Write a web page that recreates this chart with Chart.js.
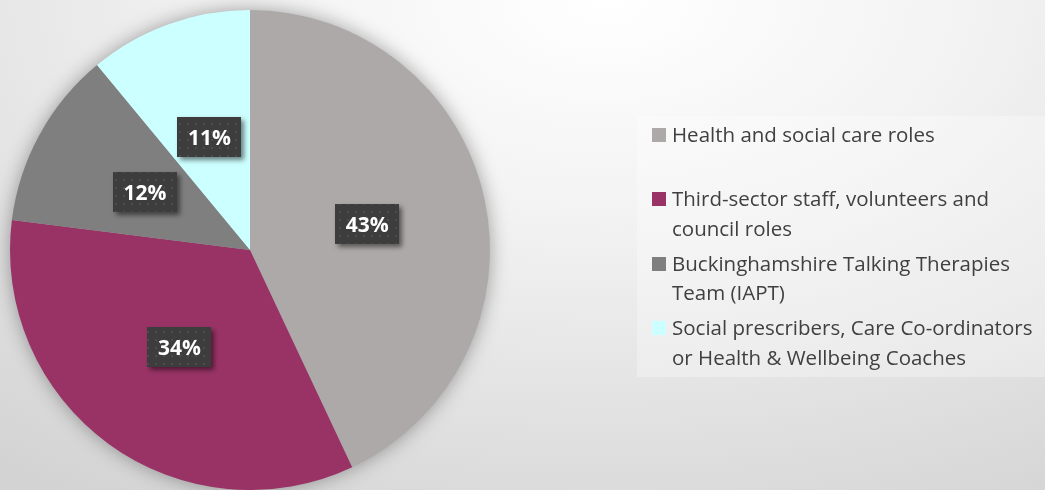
<!DOCTYPE html>
<html>
<head>
<meta charset="utf-8">
<title>Roles of respondents</title>
<script src="https://cdn.jsdelivr.net/npm/chart.js@4/dist/chart.umd.min.js"></script>
<style>
  html, body { margin: 0; padding: 0; }
  body {
    width: 1045px; height: 490px; overflow: hidden;
    background: radial-gradient(ellipse 95% 120% at 58% 0%, #ffffff 0%, #f2f2f2 38%, #d3d3d3 100%);
  }
  #wrap { position: relative; width: 1045px; height: 490px; }
</style>
</head>
<body>
<div id="wrap"><canvas id="c" width="1045" height="490"></canvas></div>
<script>
// Respondent roles and their share of responses (%)
const categories = [
  'Health and social care roles',
  'Third-sector staff, volunteers and council roles',
  'Buckinghamshire Talking Therapies Team (IAPT)',
  'Social prescribers, Care Co-ordinators or Health & Wellbeing Coaches'
];
const shares = [43, 34, 12, 11];
const sliceColors = ['#ADA9A8', '#993366', '#7F7F7F', '#CCFFFF'];

// Small dotted tile used as the fill of the value badges
function makeDotPattern(ctx) {
  const t = document.createElement('canvas');
  t.width = 8; t.height = 8;
  const g = t.getContext('2d');
  g.fillStyle = '#3d3d3d';
  g.fillRect(0, 0, 8, 8);
  g.fillStyle = '#4d4d4d';
  g.fillRect(3, 3, 2, 2);
  return ctx.createPattern(t, 'repeat');
}

// Soft drop shadow behind the whole pie
const pieShadow = {
  id: 'pieShadow',
  beforeDatasetsDraw(chart) {
    const arc = chart.getDatasetMeta(0).data[0];
    if (!arc) return;
    const ctx = chart.ctx;
    ctx.save();
    ctx.shadowColor = 'rgba(0,0,0,0.38)';
    ctx.shadowBlur = 20;
    ctx.fillStyle = '#aaaaaa';
    ctx.beginPath();
    ctx.arc(arc.x, arc.y, arc.outerRadius - 1, 0, Math.PI * 2);
    ctx.fill();
    ctx.restore();
  }
};

// Percentage badges at the middle of each slice
const sliceLabels = {
  id: 'sliceLabels',
  afterDatasetsDraw(chart) {
    const ctx = chart.ctx;
    const meta = chart.getDatasetMeta(0);
    const vals = chart.data.datasets[0].data;
    const total = vals.reduce((a, b) => a + b, 0);
    const pattern = makeDotPattern(ctx);
    meta.data.forEach((arc, i) => {
      const p = arc.tooltipPosition();
      const txt = Math.round(vals[i] / total * 100) + '%';
      ctx.save();
      ctx.font = 'bold 21px "Open Sans"';
      const w = Math.round(ctx.measureText(txt).width + 21);
      const h = 40;
      const x = Math.round(p.x - w / 2), y = Math.round(p.y - h / 2);
      ctx.shadowColor = 'rgba(0,0,0,0.5)';
      ctx.shadowBlur = 5;
      ctx.shadowOffsetX = 3;
      ctx.shadowOffsetY = 3;
      ctx.fillStyle = pattern;
      ctx.fillRect(x, y, w, h);
      ctx.restore();
      ctx.save();
      ctx.font = 'bold 21px "Open Sans"';
      ctx.fillStyle = '#ffffff';
      ctx.textAlign = 'center';
      ctx.textBaseline = 'alphabetic';
      ctx.fillText(txt, p.x, y + h / 2 + 7.5);
      ctx.restore();
    });
  }
};

// Legend panel on the right, built from the chart's own labels and colours
const sideLegend = {
  id: 'sideLegend',
  afterDraw(chart) {
    const ctx = chart.ctx;
    const labels = chart.data.labels;
    const colors = chart.data.datasets[0].backgroundColor;
    const box = { x: 637, y: 116, w: 420, h: 261 };
    ctx.save();
    ctx.fillStyle = 'rgba(255,255,255,0.3)';
    ctx.fillRect(box.x, box.y, box.w, box.h);

    ctx.font = '20.5px "Open Sans"';
    ctx.fillStyle = '#404040';
    ctx.textBaseline = 'alphabetic';
    const maxW = 378, lineH = 29.5, gap = 5.5;
    const textX = 672, swX = 652, sw = 14;
    let cy = 134.5;
    labels.forEach((lab, i) => {
      // wrap words into lines
      const words = lab.split(' ');
      const lines = [];
      let cur = '';
      words.forEach(wd => {
        const test = cur ? cur + ' ' + wd : wd;
        if (ctx.measureText(test).width > maxW && cur) { lines.push(cur); cur = wd; }
        else cur = test;
      });
      if (cur) lines.push(cur);

      ctx.fillStyle = colors[i];
      ctx.fillRect(swX, Math.round(cy - sw / 2), sw, sw);
      ctx.fillStyle = '#404040';
      lines.forEach((ln, k) => {
        ctx.fillText(ln, textX, cy + k * lineH + 7.3);
      });
      cy += Math.max(lines.length, 2) * lineH + gap;
    });
    ctx.restore();
  }
};

new Chart(document.getElementById('c'), {
  type: 'pie',
  data: {
    labels: categories,
    datasets: [{
      data: shares,
      backgroundColor: sliceColors,
      borderWidth: 0
    }]
  },
  options: {
    responsive: false,
    animation: false,
    layout: { padding: { left: 10, top: 10, right: 555, bottom: 0 } },
    plugins: {
      legend: { display: false },
      tooltip: { enabled: false }
    }
  },
  plugins: [pieShadow, sliceLabels, sideLegend]
});
</script>
</body>
</html>
